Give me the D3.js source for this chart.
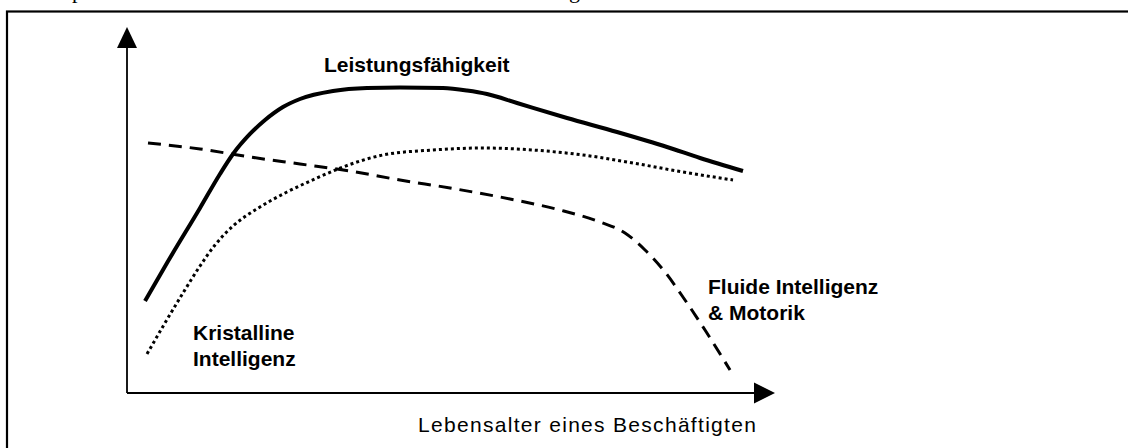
<!DOCTYPE html>
<html>
<head>
<meta charset="utf-8">
<script src="https://cdn.jsdelivr.net/npm/d3@7"></script>
<style>
  html, body { margin: 0; padding: 0; background: #fff; }
  svg { display: block; }
</style>
</head>
<body>
<svg id="chart" width="1128" height="448"></svg>
<script>
// ---- Data (abstract units: age 0-100 on x, level 0-100 on y) ----
const leistungX = [2.78, 6.17, 11.27, 14.35, 16.36, 18.98, 21.30, 24.07, 26.70, 31.79, 37.04, 42.13, 48.77, 52.47, 55.56, 60.19, 67.90, 75.62, 83.33, 88.43, 95.06];
const leistungY = [25.14, 35.52, 50.55, 59.84, 65.30, 70.77, 74.59, 78.14, 80.33, 82.51, 83.33, 83.47, 83.33, 82.65, 81.69, 79.23, 75.14, 71.31, 67.21, 64.21, 60.66];

const kristallinX = [3.09, 5.86, 8.64, 11.27, 13.58, 16.36, 20.52, 24.69, 29.32, 33.33, 39.51, 47.22, 54.94, 62.65, 70.37, 78.09, 85.80, 93.52];
const kristallinY = [10.66, 19.13, 27.32, 34.70, 40.44, 45.63, 50.82, 54.92, 58.74, 61.75, 65.03, 66.39, 66.94, 66.39, 65.03, 62.84, 60.38, 58.20];

const fluidX = [3.24, 11.27, 18.98, 26.70, 34.41, 42.13, 49.85, 59.10, 66.82, 72.99, 76.85, 79.94, 83.02, 86.11, 89.20, 93.06];
const fluidY = [68.31, 66.67, 64.48, 62.57, 60.66, 58.20, 56.01, 53.01, 50.00, 46.72, 43.72, 39.07, 33.06, 25.41, 17.21, 6.28];

const seriesNames = ["Leistungsfähigkeit", "Kristalline Intelligenz", "Fluide Intelligenz & Motorik"];
const xAxisTitle = "Lebensalter eines Beschäftigten";

// ---- Layout ----
const svg = d3.select("#chart");
const x = d3.scaleLinear().domain([0, 100]).range([127, 775]);
const y = d3.scaleLinear().domain([0, 100]).range([393, 27]);

// partial text line of the surrounding document (only descenders visible)
svg.append("text").attr("x", 72).attr("y", -2)
  .attr("font-family", "Liberation Serif, Times New Roman, serif").attr("font-size", 22).text("p");
svg.append("text").attr("x", 569).attr("y", -2)
  .attr("font-family", "Liberation Serif, Times New Roman, serif").attr("font-size", 22).text("g");

// frame
svg.append("rect").attr("x", 7).attr("y", 11.5).attr("width", 1200).attr("height", 500)
  .attr("fill", "none").attr("stroke", "#000").attr("stroke-width", 2.2);

// axes
const x0 = x(0), y0 = y(0), xEnd = x(100), yEnd = y(100);
svg.append("line").attr("x1", x0).attr("y1", y0).attr("x2", xEnd - 20).attr("y2", y0)
  .attr("stroke", "#000").attr("stroke-width", 1.8);
svg.append("line").attr("x1", x0).attr("y1", y0).attr("x2", x0).attr("y2", yEnd + 20)
  .attr("stroke", "#000").attr("stroke-width", 1.8);
svg.append("path")
  .attr("d", `M${xEnd},${y0} L${xEnd - 21},${y0 - 10.5} L${xEnd - 21},${y0 + 10.5} Z`)
  .attr("fill", "#000");
svg.append("path")
  .attr("d", `M${x0},${yEnd} L${x0 - 10},${yEnd + 21} L${x0 + 10},${yEnd + 21} Z`)
  .attr("fill", "#000");

// curves
const line = d3.line().x(d => x(d[0])).y(d => y(d[1])).curve(d3.curveMonotoneX);
const zip = (a, b) => a.map((v, i) => [v, b[i]]);

svg.append("path").attr("d", line(zip(kristallinX, kristallinY)))
  .attr("fill", "none").attr("stroke", "#000").attr("stroke-width", 3)
  .attr("stroke-dasharray", "3,3");
svg.append("path").attr("d", line(zip(fluidX, fluidY)))
  .attr("fill", "none").attr("stroke", "#000").attr("stroke-width", 3)
  .attr("stroke-dasharray", "13,8");
svg.append("path").attr("d", line(zip(leistungX, leistungY)))
  .attr("fill", "none").attr("stroke", "#000").attr("stroke-width", 4);

// labels
const bold = { "font-family": "Liberation Sans, Arial, sans-serif", "font-size": 21, "font-weight": "bold" };
function label(px, py, lines, attrs) {
  const t = svg.append("text").attr("x", px).attr("y", py);
  Object.entries(attrs).forEach(([k, v]) => t.attr(k, v));
  lines.forEach((s, i) => t.append("tspan").attr("x", px).attr("dy", i === 0 ? 0 : 25.5).text(s));
}
label(324, 72, ["Leistungsfähigkeit"], bold);
label(193, 340, ["Kristalline", "Intelligenz"], bold);
label(708, 294, ["Fluide Intelligenz", "& Motorik"], bold);

svg.append("text").attr("x", 418).attr("y", 432)
  .attr("font-family", "Liberation Sans, Arial, sans-serif").attr("font-size", 21)
  .attr("letter-spacing", 1.3)
  .text(xAxisTitle);
</script>
</body>
</html>
